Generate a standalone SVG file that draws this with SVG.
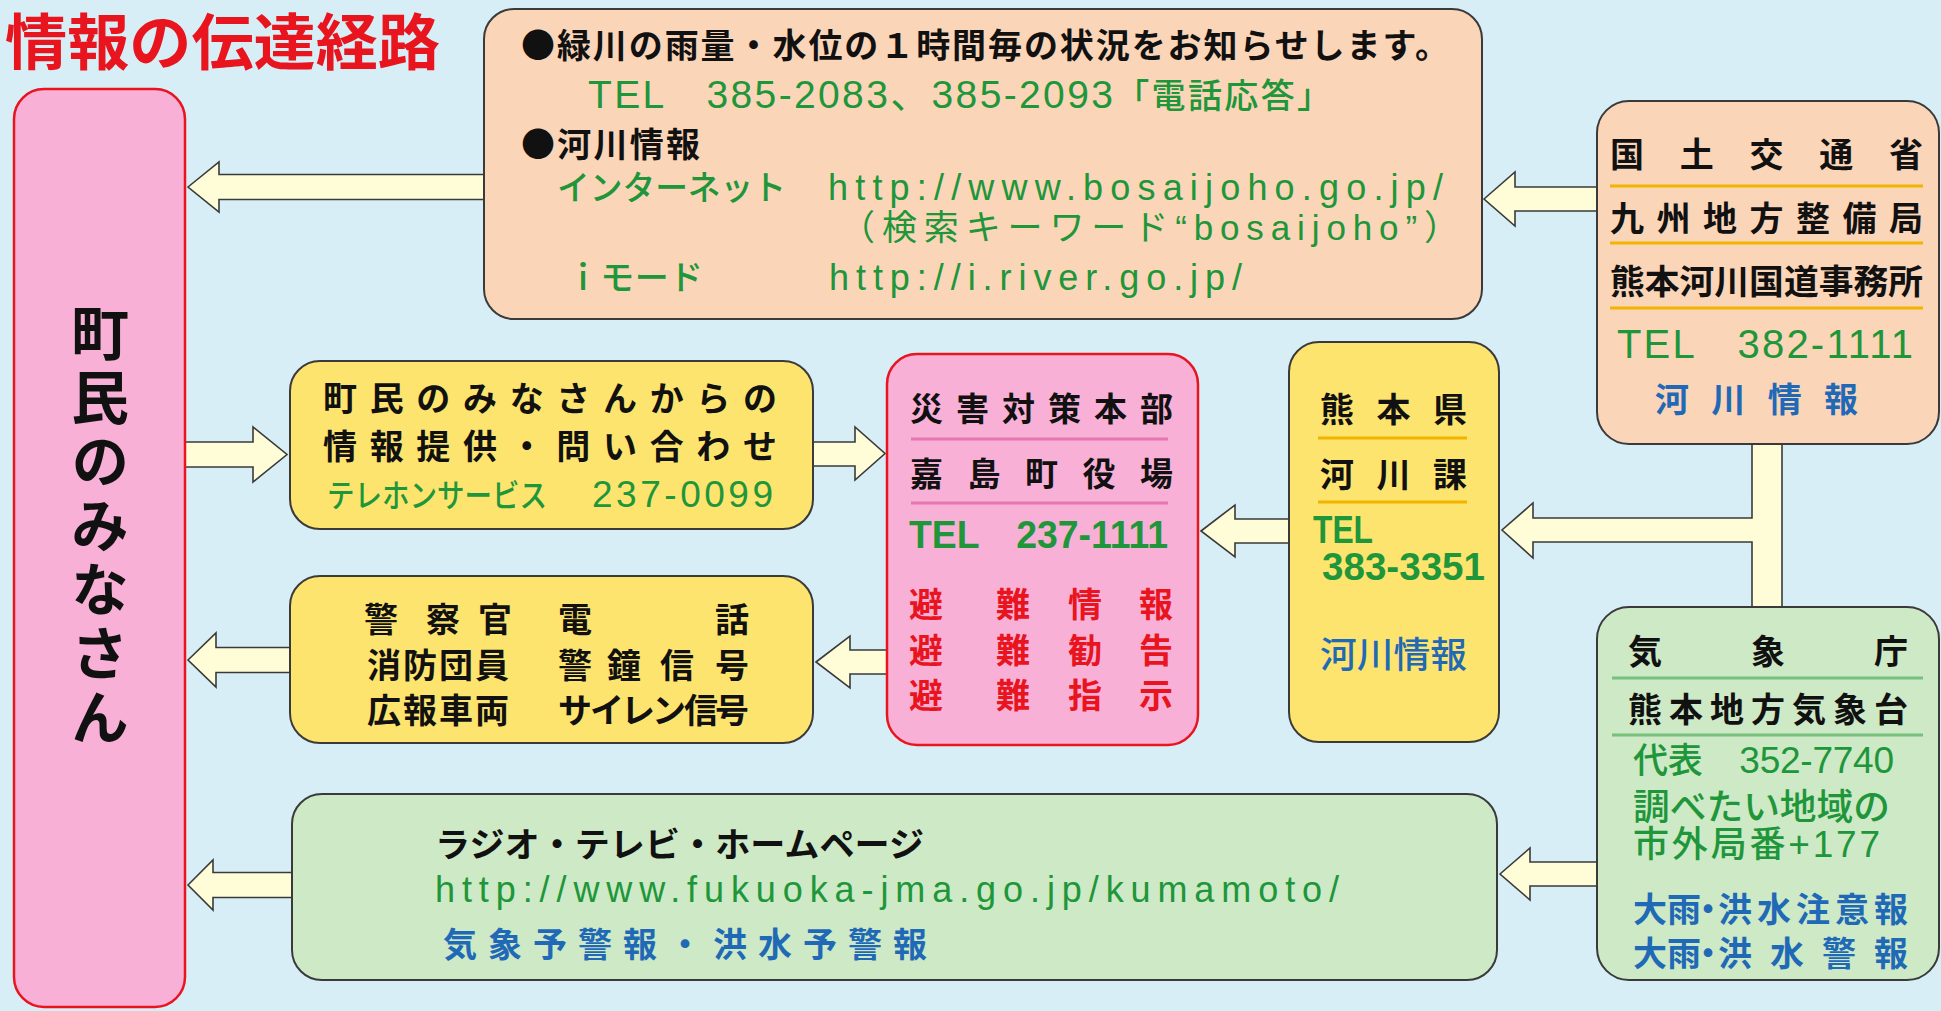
<svg xmlns="http://www.w3.org/2000/svg" width="1941" height="1011" viewBox="0 0 1941 1011">
<style>
.peach{fill:#fbd5b8;stroke:#3a3a3a;stroke-width:2}
.yellow{fill:#fde46e;stroke:#3a3a3a;stroke-width:2}
.pink{fill:#f8b0d7;stroke:#e8141e;stroke-width:2.5}
.green{fill:#cde9c5;stroke:#3a3a3a;stroke-width:2}
.arrow{fill:#fffcd8;stroke:#3a3a3a;stroke-width:1.6;stroke-linejoin:miter}
.jp{font-family:"Noto Sans CJK JP",sans-serif;font-weight:700}
.lat{font-family:"Liberation Sans","Noto Sans CJK JP",sans-serif;font-weight:400}
.med{font-weight:500}
.bold{font-weight:700}
.k{fill:#111}
.g{fill:#20963a}
.b{fill:#1f69b6}
.r{fill:#e8141e}
.sep-o{stroke:#f3b400;stroke-width:3}
.sep-p{stroke:#e677b0;stroke-width:3}
.sep-g{stroke:#78c07e;stroke-width:3}
.vert{writing-mode:vertical-rl;text-orientation:upright;letter-spacing:6px}
</style>
<rect x="0" y="0" width="1941" height="1011" fill="#d7eef7"/>

<g id="title">
<text class="jp" x="5" y="65" font-size="61" font-weight="900" fill="#e8141e" textLength="435" lengthAdjust="spacingAndGlyphs">情報の伝達経路</text>
</g>

<g id="connectors">
<polygon class="arrow" points="188,187 219,162 219,174.5 495,174.5 495,199.5 219,199.5 219,212"/>
<polygon class="arrow" points="1484,199 1515,172 1515,187 1605,187 1605,211 1515,211 1515,226"/>
<polygon class="arrow" points="180,442 253,442 253,427 287,454.5 253,482 253,467 180,467"/>
<polygon class="arrow" points="808,442 855,442 855,427 885,453.5 855,480 855,466 808,466"/>
<polygon class="arrow" points="188,660 216,633 216,647.5 295,647.5 295,672.5 216,672.5 216,687"/>
<polygon class="arrow" points="816,662 850,636 850,650 892,650 892,674 850,674 850,688"/>
<polygon class="arrow" points="1201,531 1235,505 1235,519 1293,519 1293,543 1235,543 1235,557"/>
<polygon class="arrow" points="1752,440 1782,440 1782,611 1752,611 1752,542 1533,542 1533,558 1502,530 1533,503 1533,518 1752,518"/>
<polygon class="arrow" points="1500,874 1530,848 1530,862 1602,862 1602,886 1530,886 1530,900"/>
<polygon class="arrow" points="188,885 213,860 213,872.5 297,872.5 297,897.5 213,897.5 213,910"/>
</g>

<g id="residents">
<rect class="pink" x="14" y="89" width="171" height="918" rx="30"/>
<text class="jp k vert" x="100" y="304" font-size="58" font-weight="900">町民のみなさん</text>
</g>

<g id="river-info">
<rect class="peach" x="484" y="9" width="998" height="310" rx="30"/>
<text class="jp k" x="521" y="58" font-size="34" textLength="928" lengthAdjust="spacing">●緑川の雨量・水位の１時間毎の状況をお知らせします。</text>
<text class="lat g" x="588" y="108" font-size="39" textLength="743" lengthAdjust="spacing">TEL　385-2083、385-2093<tspan class="med" font-size="34">「電話応答」</tspan></text>
<text class="jp k" x="521" y="157" font-size="34" textLength="179" lengthAdjust="spacing">●河川情報</text>
<text class="jp g med" x="557" y="200" font-size="34" textLength="229" lengthAdjust="spacingAndGlyphs">インターネット</text>
<text class="lat g" x="828" y="200" font-size="36" textLength="615" lengthAdjust="spacing">http://www.bosaijoho.go.jp/</text>
<text class="lat g" x="840" y="240" font-size="35" textLength="619" lengthAdjust="spacing">（検索キーワード“bosaijoho”）</text>
<text class="jp g med" x="566" y="290" font-size="34" textLength="137" lengthAdjust="spacing">ｉモード</text>
<text class="lat g" x="829" y="290" font-size="36" textLength="413" lengthAdjust="spacing">http://i.river.go.jp/</text>
</g>

<g id="mlit">
<rect class="peach" x="1597" y="101" width="342" height="343" rx="32"/>
<text class="jp k" x="1610" y="167" font-size="34" textLength="313" lengthAdjust="spacing">国土交通省</text>
<line class="sep-o" x1="1610" y1="186" x2="1923" y2="186"/>
<text class="jp k" x="1610" y="231" font-size="34" textLength="313" lengthAdjust="spacing">九州地方整備局</text>
<line class="sep-o" x1="1610" y1="243" x2="1923" y2="243"/>
<text class="jp k" x="1610" y="294" font-size="34" textLength="313" lengthAdjust="spacingAndGlyphs">熊本河川国道事務所</text>
<line class="sep-o" x1="1610" y1="308" x2="1923" y2="308"/>
<text class="lat g" x="1617" y="358" font-size="40" textLength="296" lengthAdjust="spacing">TEL　382-1111</text>
<text class="jp b" x="1655" y="412" font-size="34" textLength="203" lengthAdjust="spacing">河川情報</text>
</g>

<g id="prefecture">
<rect class="yellow" x="1289" y="342" width="210" height="400" rx="30"/>
<text class="jp k" x="1320" y="422" font-size="34" textLength="147" lengthAdjust="spacing">熊本県</text>
<line class="sep-o" x1="1318" y1="438" x2="1467" y2="438"/>
<text class="jp k" x="1320" y="487" font-size="34" textLength="147" lengthAdjust="spacing">河川課</text>
<line class="sep-o" x1="1318" y1="502" x2="1467" y2="502"/>
<text class="lat g bold" x="1313" y="543" font-size="38" textLength="60" lengthAdjust="spacingAndGlyphs">TEL</text>
<text class="lat g bold" x="1322" y="580" font-size="38" textLength="163" lengthAdjust="spacingAndGlyphs">383-3351</text>
<text class="jp b med" x="1320" y="668" font-size="36" textLength="147" lengthAdjust="spacingAndGlyphs">河川情報</text>
</g>

<g id="disaster-hq">
<rect class="pink" x="887" y="354" width="311" height="391" rx="30"/>
<text class="jp k" x="910" y="421" font-size="33" textLength="263" lengthAdjust="spacing">災害対策本部</text>
<line class="sep-p" x1="911" y1="439" x2="1168" y2="439"/>
<text class="jp k" x="910" y="486" font-size="33" textLength="263" lengthAdjust="spacing">嘉島町役場</text>
<line class="sep-p" x1="911" y1="503" x2="1168" y2="503"/>
<text class="lat g bold" x="909" y="548" font-size="39" textLength="259" lengthAdjust="spacingAndGlyphs">TEL　237-1111</text>
<text class="jp r" x="909 996 1068 1139" y="617" font-size="34">避難情報</text>
<text class="jp r" x="909 996 1068 1139" y="663" font-size="34">避難勧告</text>
<text class="jp r" x="909 996 1068 1139" y="708" font-size="34">避難指示</text>
</g>

<g id="resident-inquiry">
<rect class="yellow" x="290" y="361" width="523" height="168" rx="30"/>
<text class="jp k" x="323" y="411" font-size="34" textLength="454" lengthAdjust="spacing">町民のみなさんからの</text>
<text class="jp k" x="323" y="459" font-size="34" textLength="454" lengthAdjust="spacing">情報提供・問い合わせ</text>
<text class="jp g med" x="327" y="507" font-size="32" textLength="220" lengthAdjust="spacingAndGlyphs">テレホンサービス</text>
<text class="lat g" x="592" y="507" font-size="37" textLength="181" lengthAdjust="spacing">237-0099</text>
</g>

<g id="alerts">
<rect class="yellow" x="290" y="576" width="523" height="167" rx="30"/>
<text class="jp k" x="364 426 478 558 715" y="632" font-size="34">警察官電話</text>
<text class="jp k" x="367 403 439 475 558 607 660 715" y="678" font-size="34">消防団員警鐘信号</text>
<text class="jp k" x="367 403 439 475 558 590 621 652 684 715" y="723" font-size="34">広報車両サイレン信号</text>
</g>

<g id="jma">
<rect class="green" x="1597" y="607" width="342" height="373" rx="32"/>
<text class="jp k" x="1628" y="664" font-size="34" textLength="280" lengthAdjust="spacing">気象庁</text>
<line class="sep-g" x1="1612" y1="678" x2="1923" y2="678"/>
<text class="jp k" x="1628" y="722" font-size="34" textLength="280" lengthAdjust="spacing">熊本地方気象台</text>
<line class="sep-g" x1="1612" y1="735" x2="1923" y2="735"/>
<text class="lat g" x="1633" y="773" font-size="37" textLength="261" lengthAdjust="spacing"><tspan class="med" font-size="35">代表</tspan>　352-7740</text>
<text class="jp g med" x="1633" y="820" font-size="36" textLength="257" lengthAdjust="spacingAndGlyphs">調べたい地域の</text>
<text class="lat g" x="1633" y="857" font-size="37" textLength="247" lengthAdjust="spacing"><tspan class="med" font-size="36">市外局番</tspan>+177</text>
<text class="jp b" x="1633 1667 1691 1718 1757 1796 1835 1874" y="922" font-size="34">大雨・洪水注意報</text>
<text class="jp b" x="1633 1667 1691 1718 1770 1822 1874" y="966" font-size="34">大雨・洪水警報</text>
</g>

<g id="media">
<rect class="green" x="292" y="794" width="1205" height="186" rx="30"/>
<text class="jp k" x="435" y="857" font-size="34" textLength="489" lengthAdjust="spacingAndGlyphs">ラジオ・テレビ・ホームページ</text>
<text class="lat g" x="435" y="902" font-size="36" textLength="904" lengthAdjust="spacing">http://www.fukuoka-jma.go.jp/kumamoto/</text>
<text class="jp b" x="443" y="957" font-size="34" textLength="484" lengthAdjust="spacing">気象予警報・洪水予警報</text>
</g>
</svg>
